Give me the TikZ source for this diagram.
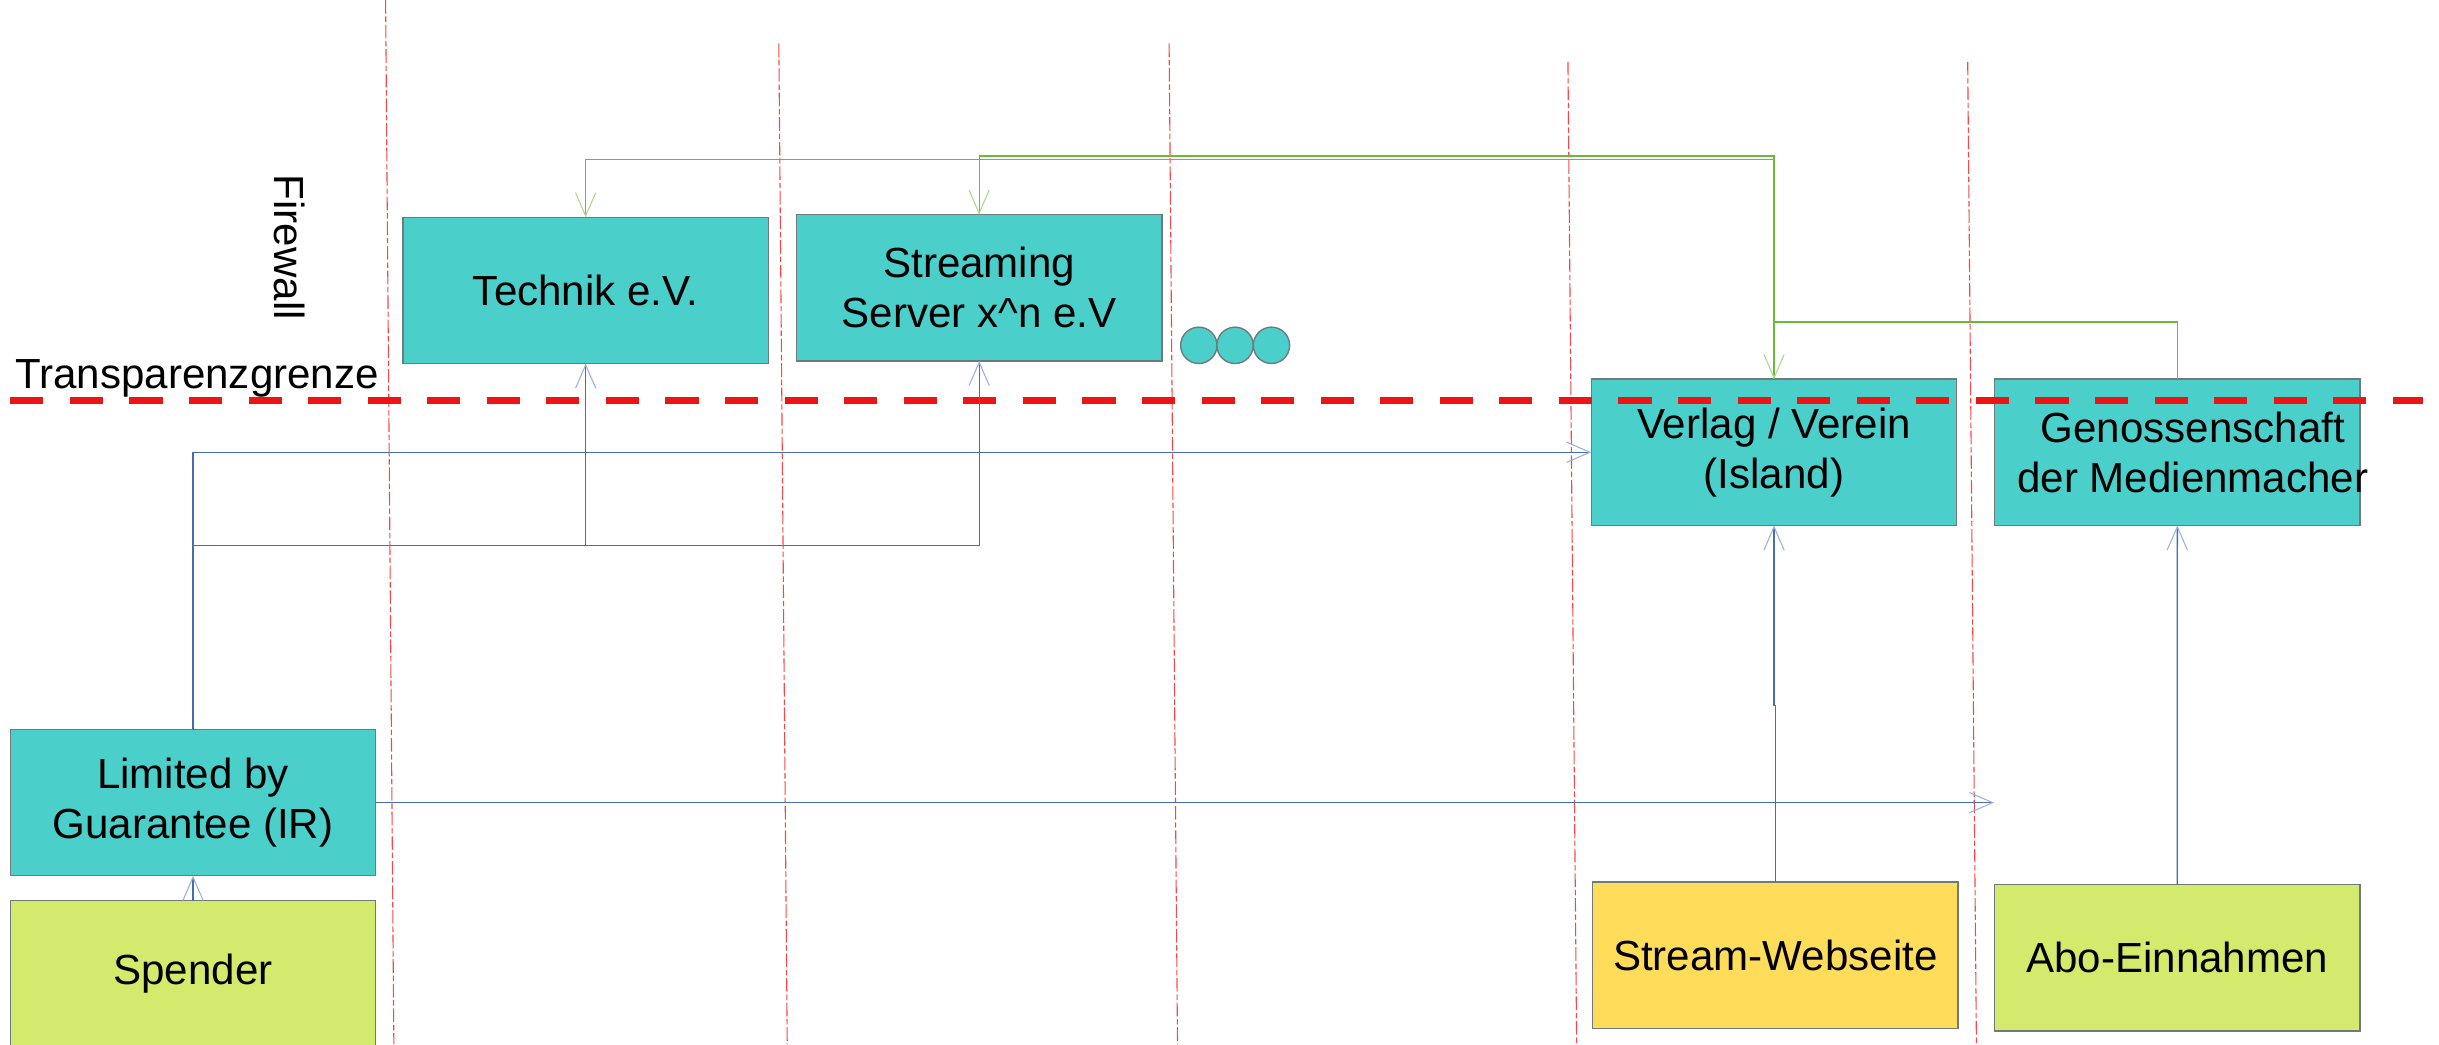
\documentclass[tikz,border=0pt]{standalone}
\usepackage{fontspec}
\setmainfont{Liberation Sans}
\usetikzlibrary{arrows.meta}

\definecolor{tuerkis}{RGB}{74,207,203}
\definecolor{gelbgruen}{RGB}{212,234,108}
\definecolor{gelb}{RGB}{255,220,90}
\definecolor{rahmen}{RGB}{112,122,122}
\definecolor{gruen}{RGB}{104,188,56}
\definecolor{gruenhell}{RGB}{170,220,140}
\definecolor{blau}{RGB}{70,110,175}
\definecolor{blauhell}{RGB}{155,178,220}
\definecolor{rot}{RGB}{238,20,20}
\definecolor{rotduenn}{RGB}{250,70,70}

\tikzset{
  kasten/.style={draw=rahmen, line width=0.5pt, fill=tuerkis, minimum width=4.7cm,
    minimum height=1.88cm, inner sep=0pt, outer sep=0pt, align=center},
  punkt/.style={circle, draw=rahmen, line width=0.5pt, fill=tuerkis, minimum size=0.468cm,
    inner sep=0pt},
  gruenpfeil/.style={draw=gruen, line width=0.5pt,
    -{Straight Barb[length=3mm,width=2.6mm,line width=0.4pt,color=gruenhell]}},
  blaupfeil/.style={draw=blau, line width=0.5pt,
    -{Straight Barb[length=3mm,width=2.6mm,line width=0.4pt,color=blauhell]}},
  grenze/.style={draw=rotduenn, line width=0.4pt, dash pattern=on 5pt off 1pt on 2pt off 1pt}
}

\begin{document}
\begin{tikzpicture}[x=0.02cm, y=-0.02cm, font=\fontsize{15.4}{18.3}\selectfont]
      \useasboundingbox (0,0) rectangle (1568,671.2);

      %Spalten
      \draw[grenze] (247.9,0) -- (253.2,671.2);
      \draw[grenze] (500.7,27.9) -- (506.1,671.2);
      \draw[grenze] (751.6,27.9) -- (757.0,671.2);
      \draw[grenze] (1008.0,39.7) -- (1013.6,671.2);
      \draw[grenze] (1265.0,39.7) -- (1270.6,671.2);

      %Vereine oben
      \node[kasten] (Technik) at (376.5,186.7) {Technik e.V.};
      \node[kasten] (Streaming) at (629.5,185) {Streaming\\Server x\^{}n e.V};
      \node[punkt] (Punkt1) at (770.7,222) {};
      \node[punkt] (Punkt2) at (794,222) {};
      \node[punkt] (Punkt3) at (817.4,222) {};

      %Verlag und Genossenschaft
      \node[kasten] (Verlag) at (1140.5,290.75) {Verlag / Verein\\(Island)};
      \node[kasten, label={[xshift=0.2cm, align=center]center:Genossenschaft\\der Medienmacher}]
        (Genossenschaft) at (1399.75,290.75) {};

      %Geldquellen
      \node[kasten] (Limited) at (124.1,516) {Limited by\\Guarantee (IR)};
      \node[kasten, fill=gelbgruen] (Spender) at (124.1,626) {Spender};
      \node[kasten, fill=gelb] (Webseite) at (1141.3,614.1) {Stream-Webseite};
      \node[kasten, fill=gelbgruen] (Abo) at (1399.7,615.75) {Abo-Einnahmen};

      %Transparenzgrenze
      \draw[rot, line width=0.094cm, dash pattern=on 0.426cm off 0.34cm] (6.6,257.4) -- (1558,257.4);
      \node[anchor=base west, inner sep=0pt] (Transparenz) at (9.5,250) {Transparenzgrenze};
      \node[rotate=-90] (Firewall) at (186,159) {Firewall};

      %Hilfspunkte
      \coordinate (gruenOben1) at (0,102.4);
      \coordinate (gruenOben2) at (0,100.3);
      \coordinate (gruenMitte) at (0,207);
      \coordinate (blauMitte) at (0,350.8);
      \coordinate (Knick) at (0,453.7);
      \coordinate (Ende) at (1282,516);

      %Pfeile gruen
      \draw[gruenpfeil] (Verlag.north) -- (Verlag.north |- gruenOben1) -| (Technik.north);
      \draw[gruenpfeil] (Verlag.north) -- (Verlag.north |- gruenOben2) -| (Streaming.north);
      \draw[gruenpfeil] (Genossenschaft.north) -- (Genossenschaft.north |- gruenMitte) -| (Verlag.north);

      %Pfeile blau
      \draw[blaupfeil] (Limited.north) |- (Verlag.west);
      \draw[blaupfeil] (Limited.north) -- (Limited.north |- blauMitte) -| (Technik.south);
      \draw[blaupfeil] (Limited.north) -- (Limited.north |- blauMitte) -| (Streaming.south);
      \draw[blaupfeil] (Limited.east) -- (Ende);
      \draw[blaupfeil] (Spender.north) -- (Limited.south);
      \draw[blaupfeil] (Webseite.north) -- (Webseite.north |- Knick) -| (Verlag.south);
      \draw[blaupfeil] (Abo.north) -- (Genossenschaft.south);
\end{tikzpicture}
\end{document}
